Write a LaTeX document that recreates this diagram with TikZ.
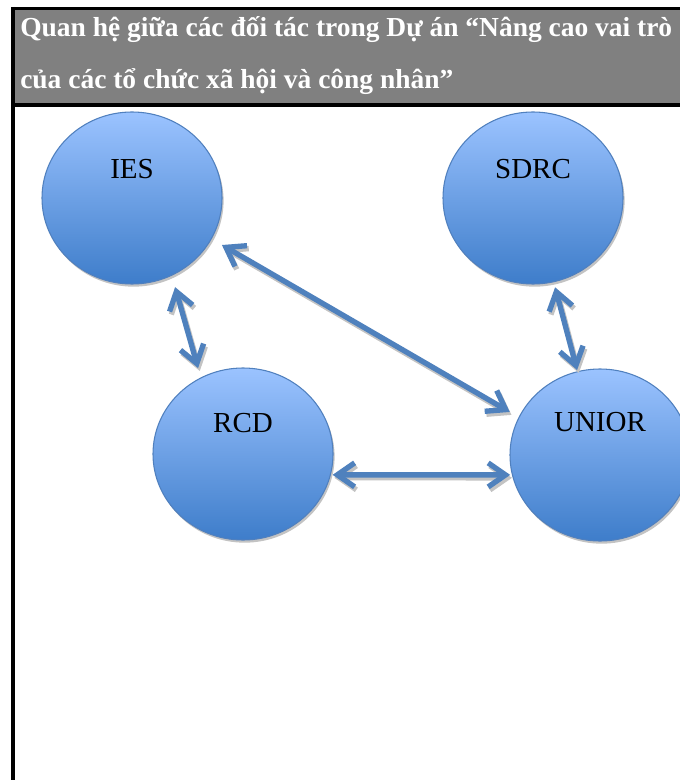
\documentclass[tikz,border=0pt]{standalone}
\usepackage{fontspec}
\setmainfont{Liberation Serif}
\usetikzlibrary{shapes.geometric,arrows.meta,calc,shadows}
\definecolor{arrowblue}{RGB}{79,129,189}
\definecolor{bubtop}{RGB}{155,195,255}
\definecolor{bubbot}{RGB}{62,125,202}
\definecolor{bubedge}{RGB}{80,128,190}
\definecolor{hdrgray}{RGB}{128,128,128}
\definecolor{shadowgray}{RGB}{195,195,195}
\tikzset{
  bub/.style={ellipse, minimum width=135pt, minimum height=129pt, inner sep=0pt,
    draw=bubedge, line width=0.8pt, top color=bubtop, bottom color=bubbot,
    drop shadow={shadow xshift=1.2pt, shadow yshift=-2pt, fill=shadowgray, opacity=1}},
  lbl/.style={font=\fontsize{21.75pt}{24pt}\selectfont, text=black, inner sep=0pt},
  hdr/.style={font=\fontsize{20.6pt}{24pt}\selectfont\bfseries, text=white, inner sep=0pt},
  tipped/.style={arrows={Straight Barb[length=13pt,width=18pt]-Straight Barb[length=13pt,width=18pt]}},
  link/.style={tipped, draw=arrowblue, line width=4pt},
  linkshadow/.style={tipped, draw=shadowgray, line width=4pt, transform canvas={shift={(1.3pt,-2.2pt)}}},
}
\begin{document}
\begin{tikzpicture}[x=0.75pt,y=-0.75pt]
\useasboundingbox (0,0) rectangle (680,780);
\clip (0,0) rectangle (680,780);
\fill[white] (0,0) rectangle (680,780);
% header
\fill[hdrgray] (13,9) rectangle (680,105);
\draw[black, line width=2.4pt] (11,8.5) -- (680,8.5);
\draw[black, line width=3pt] (11,105) -- (680,105);
\draw[black, line width=3pt] (13,7) -- (13,780);
\node[hdr, anchor=base west] (t1) at (20,37) {Quan hệ giữa các đối tác trong Dự án “Nâng cao vai trò};
\node[hdr, anchor=base west] (t2) at (20,89) {của các tổ chức xã hội và công nhân”};
% bubbles
\node[bub] (ies) at (132,198) {};
\node[bub] (sdrc) at (533,198) {};
\node[bub] (rcd) at (243,454) {};
\node[bub] (unior) at (600,455) {};
\node[lbl] (iest) at ($(ies.center)+(0,-29)$) {IES};
\node[lbl] (sdrct) at ($(sdrc.center)+(0,-29)$) {SDRC};
\node[lbl] (rcdt) at ($(rcd.center)+(0,-31)$) {RCD};
\node[lbl] (uniort) at ($(unior.center)+(0,-33)$) {UNIOR};
% connectors (shadow then arrow)
\foreach \st in {linkshadow,link}{
  \draw[\st] ($(ies.center)+(64.2:99)$) -- ($(rcd.center)+(242.4:97)$);
  \draw[\st] ($(ies.center)+(27.6:101.5)$) -- ($(unior.center)+(205.5:100)$);
  \draw[\st] ($(rcd.center)+(13.1:92)$) -- ($(unior.center)+(167.5:92)$);
  \draw[\st] ($(sdrc.center)+(76.1:92)$) -- ($(unior.center)+(254.9:88)$);
}
\end{tikzpicture}
\end{document}
